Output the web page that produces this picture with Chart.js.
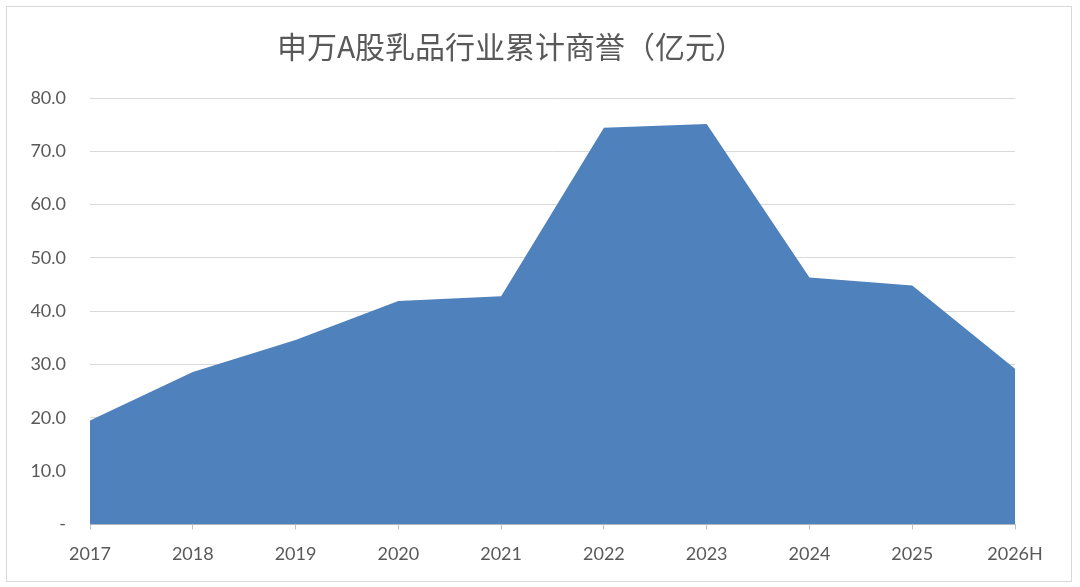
<!DOCTYPE html>
<html>
<head>
<meta charset="utf-8">
<script src="https://cdn.jsdelivr.net/npm/chart.js@4"></script>
<style>
    html, body { margin: 0; padding: 0; background: #ffffff; }
    #wrap {
        position: absolute;
        left: 6px; top: 6px;
        width: 1064px; height: 574px;
        border: 1px solid #d9d9d9;
        background: #ffffff;
    }
    #chartCanvas { display: block; }
</style>
</head>
<body>
<div id="wrap"><canvas id="chartCanvas"></canvas></div>
<script>
// 年份（類別）
const categories = ['2017', '2018', '2019', '2020', '2021', '2022', '2023', '2024', '2025', '2026H'];
// 累計商譽（億元）
const goodwill = [19.5, 28.6, 34.6, 41.9, 42.8, 74.4, 75.1, 46.3, 44.8, 29.2];
// 縱軸刻度
const yTicks = [0, 10, 20, 30, 40, 50, 60, 70, 80];

const textColor = '#595959';
const gridColor = '#d9d9d9';
const fillColor = '#4f81bd';

const canvas = document.getElementById('chartCanvas');

new Chart(canvas, {
    type: 'line',
    data: {
        labels: categories,
        datasets: [{
            label: '累计商誉',
            data: goodwill,
            fill: 'origin',
            backgroundColor: fillColor,
            borderWidth: 0,
            pointRadius: 0,
            tension: 0
        }]
    },
    options: {
        responsive: true,
        maintainAspectRatio: false,
        animation: false,
        layout: {
            padding: { left: 0, right: 56, top: 0, bottom: 2 }
        },
        plugins: {
            legend: { display: false },
            tooltip: { enabled: false },
            title: {
                display: true,
                text: '申万A股乳品行业累计商誉（亿元）',
                color: textColor,
                font: { family: '"Noto Sans CJK SC", sans-serif', size: 30, weight: 'normal' },
                padding: { top: 22, bottom: 33 }
            }
        },
        scales: {
            x: {
                offset: false,
                grid: {
                    display: true,
                    drawOnChartArea: false,
                    drawTicks: true,
                    tickLength: 5,
                    color: '#bfbfbf'
                },
                border: { display: true, color: '#bfbfbf' },
                ticks: {
                    color: textColor,
                    font: { family: 'Lato, sans-serif', size: 18 },
                    autoSkip: false,
                    maxRotation: 0,
                    padding: 14
                }
            },
            y: {
                min: 0,
                max: 80,
                afterFit: (scale) => { scale.width = 83; },
                afterBuildTicks: (scale) => {
                    scale.ticks = yTicks.map(v => ({ value: v }));
                },
                grid: {
                    color: (ctx) => ctx.tick && ctx.tick.value === 0 ? 'rgba(0,0,0,0)' : gridColor,
                    drawTicks: false
                },
                border: { display: false },
                ticks: {
                    color: textColor,
                    font: { family: 'Lato, sans-serif', size: 18 },
                    padding: 24,
                    callback: (v) => v === 0 ? '-' : Number(v).toFixed(1)
                }
            }
        }
    }
});
</script>
</body>
</html>
